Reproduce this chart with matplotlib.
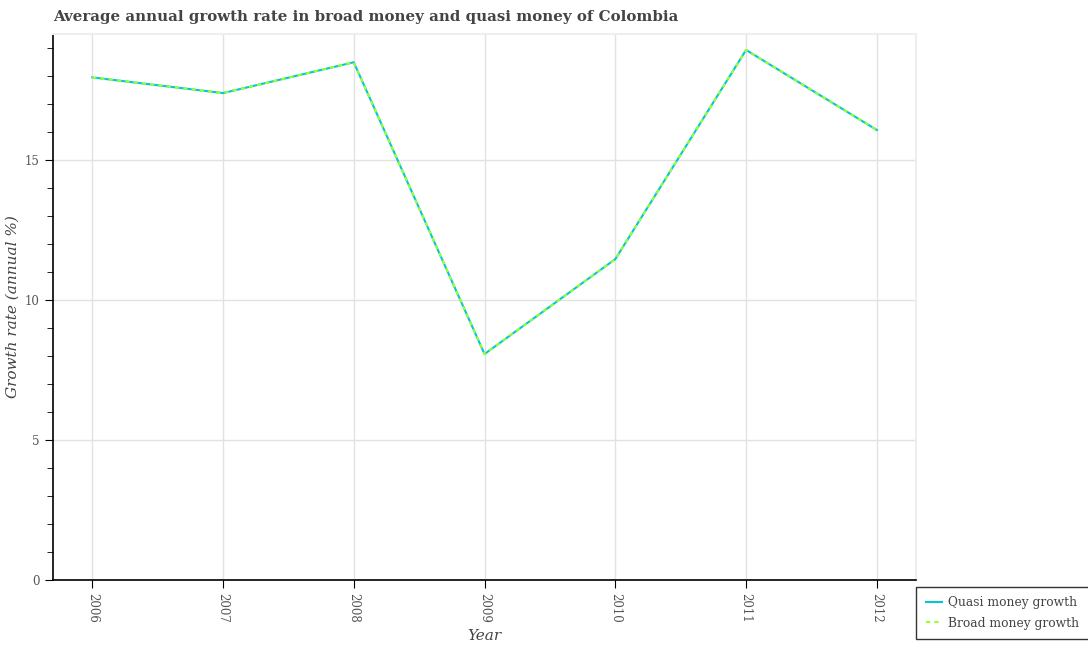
import numpy as np
import matplotlib.pyplot as plt
from matplotlib.ticker import MultipleLocator

# data
years = [2006, 2007, 2008, 2009, 2010, 2011, 2012]
quasi_money = [17.95, 17.39, 18.49, 8.07, 11.46, 18.93, 16.07]
broad_money = [17.95, 17.39, 18.49, 8.07, 11.46, 18.93, 16.07]

plt.rcParams['font.family'] = ['DejaVu Serif']

fig = plt.figure(figsize=(10.88, 6.5), dpi=100)
ax = fig.add_axes([0.0487, 0.1077, 0.7933, 0.84])

ax.plot(years, quasi_money, color='#00c8d8', lw=1.5, label='Quasi money growth')
ax.plot(years, broad_money, color='#9dff2a', lw=1.5, ls=(0, (2, 2)), label='Broad money growth')

ax.set_xlim(2005.7, 2012.3)
ax.set_ylim(0, 19.5)
ax.set_xticks(years)
ax.set_xticklabels([str(y) for y in years], rotation=270)
ax.yaxis.set_major_locator(MultipleLocator(5))
ax.yaxis.set_minor_locator(MultipleLocator(1))
ax.tick_params(axis='both', which='major', labelsize=8.5, labelcolor='#555555', length=6, color='black')
ax.tick_params(axis='y', which='minor', length=4, color='black')

ax.grid(True, color='#e2e2e2', lw=1)
ax.set_axisbelow(True)
for s in ['top', 'right']:
    ax.spines[s].set_color('#eeeeee')
    ax.spines[s].set_linewidth(1.5)
for s in ['left', 'bottom']:
    ax.spines[s].set_color('black')
    ax.spines[s].set_linewidth(1.2)

ax.set_title('Average annual growth rate in broad money and quasi money of Colombia',
             loc='left', fontsize=10.8, fontweight='bold', color='#444444', pad=9)
ax.set_xlabel('Year', fontsize=11, style='italic', color='#444444')
ax.set_ylabel('Growth rate (annual %)', fontsize=11, style='italic', color='#444444')

leg = ax.legend(loc='upper left', bbox_to_anchor=(1.0, -0.012), fontsize=8.8,
                frameon=True, fancybox=False, edgecolor='black', handlelength=1.3,
                handletextpad=0.5, borderpad=0.8, labelspacing=0.6, borderaxespad=0)
leg.get_frame().set_linewidth(1.0)
for t in leg.get_texts():
    t.set_color('#444444')

fig.savefig('out.png', dpi=100)
